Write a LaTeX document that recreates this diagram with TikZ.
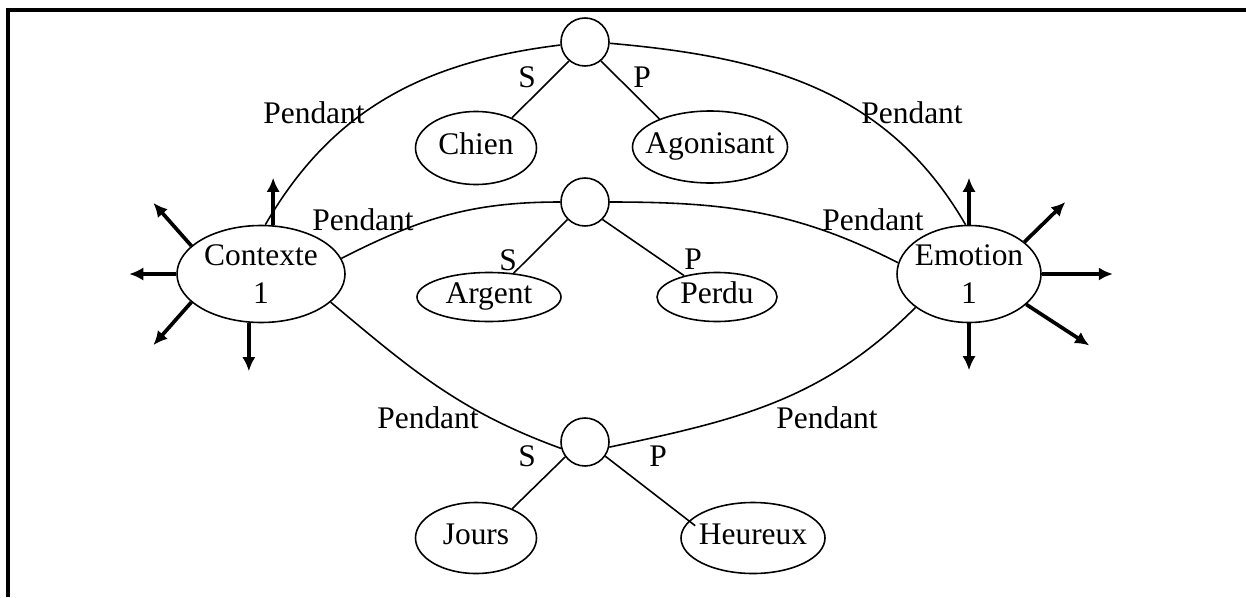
\documentclass[tikz,border=0pt]{standalone}
\usepackage{fontspec}
\setmainfont{Liberation Serif}
\usetikzlibrary{shapes.geometric, arrows.meta}

\begin{document}
\begin{tikzpicture}[
		font=\fontsize{17.9}{21.6}\selectfont,
		link/.style={draw=black, line width=0.9pt},
		ray/.style={draw=black, -{Latex[length=8pt, width=7.5pt]}, line width=2.1pt},
		rel/.style={draw=black, circle, line width=0.9pt, minimum size=0.96cm, inner sep=0pt},
		concept/.style={draw=black, ellipse, line width=0.9pt, inner xsep=-0.7cm, inner ysep=0pt, align=center},
		word/.style={concept, text height=0.85em, text depth=0.15em},
		lbl/.style={black, inner sep=0pt}
	]
		\useasboundingbox (0.00,0.00) rectangle (24.92,11.94);
		\draw[draw=black, line width=2pt] (0.16,0.00) -- (0.16,11.74) -- (24.92,11.74);
		% relation circles
		\node[rel] (top) at (11.70,11.10) {};
		\node[rel] (mid) at (11.70,7.90) {};
		\node[rel] (low) at (11.70,3.10) {};
		% concepts
		\node[concept, minimum width=3.36cm, minimum height=1.94cm] (ctx) at (5.22,6.46) {Contexte\\1};
		\node[concept, minimum width=2.88cm, minimum height=1.94cm] (emo) at (19.38,6.46) {Emotion\\1};
		\node[word, minimum width=2.42cm, minimum height=1.46cm] (chien) at (9.52,8.98) {Chien};
		\node[word, minimum width=3.10cm, minimum height=1.44cm] (agon) at (14.20,9.00) {Agonisant};
		\node[word, minimum width=2.88cm, minimum height=0.98cm] (argent) at (9.78,6.00) {Argent};
		\node[word, minimum width=2.40cm, minimum height=0.98cm] (perdu) at (14.34,6.00) {Perdu};
		\node[word, minimum width=2.42cm, minimum height=1.42cm] (jours) at (9.52,1.18) {Jours};
		\node[word, minimum width=2.88cm, minimum height=1.42cm] (heureux) at (15.06,1.18) {Heureux};
		% S / P links
		\draw[link] (top.230) -- (chien.40);
		\draw[link] (top.310) -- (agon.151);
		\draw[link] (mid.225) -- (argent.44);
		\draw[link] (mid.315) -- (perdu.147);
		\draw[link] (low.217) -- (jours.39);
		\draw[link, shorten >=-0.16cm] (low.325) -- (heureux.165);
		\node[lbl] (s1) at (10.54,10.40) {S};
		\node[lbl] (p1) at (12.84,10.40) {P};
		\node[lbl] (s2) at (10.16,6.74) {S};
		\node[lbl] (p2) at (13.86,6.76) {P};
		\node[lbl] (s3) at (10.54,2.82) {S};
		\node[lbl] (p3) at (13.16,2.82) {P};
		% Pendant arcs
		\draw[link] (ctx.85) to[out=60, in=187] (top.187);
		\draw[link] (top.357) to[out=-5, in=120] (emo.94);
		\draw[link] (ctx.11) to[out=27, in=180] (mid.west);
		\draw[link] (mid.east) to[out=0, in=153] (emo.171);
		\draw[link] (ctx.338) to[out=-40, in=160] (low.195);
		\draw[link] (low.348) to[out=12, in=225] (emo.212);
		\node[lbl] (pa) at (6.28,9.68) {Pendant};
		\node[lbl] (pb) at (18.24,9.68) {Pendant};
		\node[lbl] (pc) at (7.26,7.54) {Pendant};
		\node[lbl] (pd) at (17.46,7.54) {Pendant};
		\node[lbl] (pe) at (8.56,3.58) {Pendant};
		\node[lbl] (pf) at (16.54,3.58) {Pendant};
		% outgoing arrows
		\draw[ray] (ctx.76) -- ++(0.00,0.95);
		\draw[ray] (ctx.158) -- ++(-0.76,0.86);
		\draw[ray] (ctx.west) -- ++(-0.94,0.00);
		\draw[ray] (ctx.202) -- ++(-0.76,-0.86);
		\draw[ray] (ctx.256) -- ++(0.00,-0.97);
		\draw[ray] (emo.north) -- ++(0.00,0.94);
		\draw[ray] (emo.30) -- ++(0.82,0.80);
		\draw[ray] (emo.east) -- ++(1.42,0.00);
		\draw[ray] (emo.332) -- ++(1.26,-0.82);
		\draw[ray] (emo.south) -- ++(0.00,-0.94);
	\end{tikzpicture}
\end{document}
